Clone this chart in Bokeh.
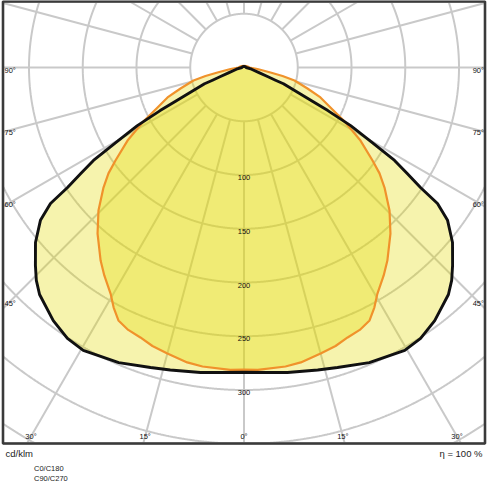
import numpy as np
from bokeh.plotting import figure
from bokeh.models import Range1d, Label, Legend, LegendItem
from bokeh.core.properties import value
from bokeh.embed import file_html
from bokeh.resources import INLINE

# ---------------- data (cd/klm vs gamma angle, planes drawn mirrored) ----------------
gamma_c0 = [0, 2.6, 7.9, 10.9, 15, 18.2, 21, 23.8, 26.4, 28.5, 30.5, 33.9, 36.6, 41.4,
            45.5, 49.5, 52, 54.1, 57.9, 61.8, 64.6, 68.6, 71.7, 75.6, 77.5, 79.3, 83.7,
            90, 100, 120, 180]
cd_c0 = [281, 281.5, 280.8, 279.4, 275.4, 272.7, 269, 266.8, 262.7, 254.1, 244.4, 233,
         223.7, 206, 189.8, 171.9, 160, 147.6, 127.9, 106, 91.1, 76.4, 62.2, 48.5, 36.7,
         25.1, 12.6, 5, 4, 2.5, 1.5]

gamma_c90 = [0, 4.4, 8.1, 13.7, 17.3, 23, 29.6, 33.1, 37, 42, 44.3, 46.5, 50, 53.1,
             54.9, 55.8, 57, 58.3, 59.6, 61.4, 62.8, 63.7, 65.1, 67.6, 68, 69, 70.8,
             77.2, 90, 120, 180]
cd_c90 = [283.5, 284.6, 286.6, 289.6, 292.3, 298.2, 302.7, 300.8, 294.8, 284.2, 276.6,
          267.5, 253.2, 236.8, 220, 198.5, 181.3, 164.6, 138.7, 113, 87.7, 71, 54.9,
          39.7, 31.6, 23.4, 15.3, 7.2, 2, 1.5, 1]

series_names = ["C0/C180", "C90/C270"]
ring_values = [100, 150, 200, 250, 300]
ring_labels = ["100", "150", "200", "250", "300"]
grid_rings = [50, 100, 150, 200, 250, 300, 350, 400, 450, 500]
ray_step = 15
bottom_ticks = [-30, -15, 0, 15, 30]
bottom_tick_labels = ["30°", "15°", "0°", "15°", "30°"]
side_ticks = [45, 60, 75, 90]
side_tick_labels = ["45°", "60°", "75°", "90°"]
unit_label = "cd/klm"
eta_label = "η = 100 %"

# ---------------- layout ----------------
W, H = 488, 487
CX, CY, K = 243.5, 67.0, 1.075          # pole position (px) and px per cd/klm
FONT = "Liberation Sans"
TXT = "#111111"


def dx(px):
    return (px - CX) / K


def dy(py):
    return (CY - py) / K


bx0, bx1 = dx(2.5), dx(484.5)
by0, by1 = dy(443.0), dy(1.0)

p = figure(width=W, height=H, output_backend="svg", toolbar_location=None,
           x_range=Range1d(dx(0), dx(W)), y_range=Range1d(dy(H), dy(0)),
           x_axis_type=None, y_axis_type=None, min_border=0, title=None,
           outline_line_color=None, background_fill_color="white",
           border_fill_color="white", margin=(0, 0, 0, 0))

GRID = "#c9c9c9"
# rings (clamped to the frame box; the clamped parts hide under the border)
th = np.linspace(0, 2 * np.pi, 2881)
rx, ry = [], []
for R in grid_rings:
    rx.append(np.clip(R * np.cos(th), bx0, bx1))
    ry.append(np.clip(R * np.sin(th), by0, by1))
p.multi_line(rx, ry, line_color=GRID, line_width=2)

# radial rays from the 50 ring to the box
sx, sy = [], []
for a in range(0, 360, ray_step):
    g = np.radians(a)
    ux, uy = np.sin(g), -np.cos(g)
    ts = []
    if ux > 1e-9: ts.append(bx1 / ux)
    if ux < -1e-9: ts.append(bx0 / ux)
    if uy > 1e-9: ts.append(by1 / uy)
    if uy < -1e-9: ts.append(by0 / uy)
    t = min(ts)
    r0 = grid_rings[0]
    if t > r0:
        sx.append([r0 * ux, t * ux])
        sy.append([r0 * uy, t * uy])
p.multi_line(sx, sy, line_color=GRID, line_width=2)


def closed_curve(gam, cd):
    g = np.radians(np.array(gam, dtype=float))
    r = np.array(cd, dtype=float)
    xr, yr = r * np.sin(g), -r * np.cos(g)
    x = np.concatenate([xr, -xr[::-1]])
    y = np.concatenate([yr, yr[::-1]])
    return x, y


FILL = (228, 218, 0)
x90, y90 = closed_curve(gamma_c90, cd_c90)
x0, y0 = closed_curve(gamma_c0, cd_c0)
p.patch(x90, y90, fill_color=FILL, fill_alpha=0.32, line_color=None)
p.patch(x0, y0, fill_color=FILL, fill_alpha=0.32, line_color=None)
p.line(np.append(x0, x0[0]), np.append(y0, y0[0]), line_color="#f0922b", line_width=2.2,
       line_join="round")
p.line(np.append(x90, x90[0]), np.append(y90, y90[0]), line_color="#111111", line_width=2.9,
       line_join="round")

# ring value labels
p.text(x=[0] * len(ring_values), y=[-v for v in ring_values], text=ring_labels,
       text_font=value(FONT), text_font_size="7.5px", text_color=TXT,
       text_align="center", text_baseline="middle", y_offset=2.5)

# bottom angle labels
yb = dy(436)
p.text(x=[-yb * np.tan(np.radians(a)) for a in bottom_ticks], y=[yb] * len(bottom_ticks),
       text=bottom_tick_labels, text_font=value(FONT), text_font_size="7.5px",
       text_color=TXT, text_align="center", text_baseline="middle")

# side angle labels
ys = [-((CX - 10) / np.tan(np.radians(a)) if a < 90 else 0.0) / K for a in side_ticks]
p.text(x=[dx(4)] * len(side_ticks), y=ys, text=side_tick_labels, text_font=value(FONT),
       text_font_size="7.5px", text_color=TXT, text_align="left",
       text_baseline="middle", y_offset=2.5)
p.text(x=[dx(483.5)] * len(side_ticks), y=ys, text=side_tick_labels, text_font=value(FONT),
       text_font_size="7.5px", text_color=TXT, text_align="right",
       text_baseline="middle", y_offset=2.5)

# frame border
p.quad(left=bx0, right=bx1, bottom=by0, top=by1, fill_color=None,
       line_color="#3a3a3a", line_width=2.6)

# texts below the frame
p.add_layout(Label(x=dx(5), y=dy(453), text=unit_label, text_font=FONT,
                   text_font_size="9.5px", text_color="#222222", text_baseline="middle"))
p.add_layout(Label(x=dx(482), y=dy(452.5), text=eta_label, text_font=FONT,
                   text_font_size="9.5px", text_color="#222222", text_align="right",
                   text_baseline="middle"))

# legend
lo = p.line(x=[], y=[], line_color="#f3ad6a", line_width=1)
lb = p.line(x=[], y=[], line_color="#444444", line_width=1)
legend = Legend(items=[LegendItem(label=series_names[0], renderers=[lo]),
                       LegendItem(label=series_names[1], renderers=[lb])],
                location=(5, 4), orientation="vertical", padding=0, margin=0, spacing=0,
                glyph_width=23, glyph_height=10, label_height=10, label_standoff=6,
                label_text_font=FONT, label_text_font_size="7.5px",
                label_text_color="#222222", border_line_color=None,
                background_fill_alpha=0)
p.add_layout(legend)

open("out.html", "w").write(file_html(p, INLINE))
